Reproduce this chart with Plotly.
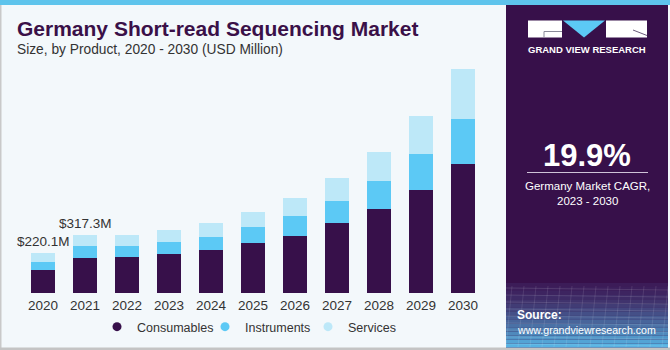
import plotly.graph_objects as go
import numpy as np

years = ["2020", "2021", "2022", "2023", "2024", "2025", "2026", "2027", "2028", "2029", "2030"]
consumables = [128.0, 192.2, 195.8, 212.3, 234.3, 272.8, 315.2, 382.8, 463.7, 568.2, 711.2]
instruments = [43.4, 67.3, 64.4, 66.0, 75.4, 88.0, 106.2, 124.9, 154.0, 198.0, 245.9]
services = [48.7, 57.8, 60.5, 68.2, 73.2, 82.5, 102.9, 128.2, 159.5, 209.0, 275.0]
labelled_years = ["2020", "2021"]
series_names = ["Consumables", "Instruments", "Services"]

W, H = 670, 350
PLOT_L, PLOT_R, PLOT_T, PLOT_B = 22, 484, 60, 293

def px(x):
    return x / W

def py(y):
    return 1 - y / H

C_CONS = "#37104a"
C_INST = "#5cc9f5"
C_SERV = "#bde8f8"
colors = [C_CONS, C_INST, C_SERV]
TXT = "#333333"
BG = "#f3f8fb"
FONT = "Liberation Sans, Arial, sans-serif"

fig = go.Figure()
for name, vals, col in zip(series_names, [consumables, instruments, services], colors):
    fig.add_trace(go.Bar(x=years, y=vals, name=name, marker=dict(color=col, line=dict(width=0)),
                         showlegend=False, hoverinfo="skip"))
legend_keys = ["legend", "legend2", "legend3"]
for name, col, lg in zip(series_names, colors, legend_keys):
    fig.add_trace(go.Scatter(x=years, y=[None] * len(years), mode="markers", name=name, legend=lg,
                             marker=dict(color=col, size=9, symbol="circle"), hoverinfo="skip"))

totals = [c + i + s for c, i, s in zip(consumables, instruments, services)]
annotations = []
for yr in labelled_years:
    k = years.index(yr)
    annotations.append(dict(x=k, y=totals[k], xref="x", yref="y", text=f"${totals[k]:.1f}M",
                            showarrow=False, yanchor="bottom", yshift=2,
                            font=dict(size=13.5, color=TXT, family=FONT)))

shapes = []
shapes.append(dict(type="rect", xref="paper", yref="paper", x0=px(0), x1=px(W), y0=py(5), y1=py(0),
                   fillcolor="#5ec4ec", line=dict(width=0), layer="below"))
shapes.append(dict(type="rect", xref="paper", yref="paper", x0=px(0), x1=px(1.5), y0=py(H), y1=py(5),
                   fillcolor="#c9c9c9", line=dict(width=0), layer="below"))
shapes.append(dict(type="rect", xref="paper", yref="paper", x0=px(0), x1=px(W), y0=py(H), y1=py(347.5),
                   fillcolor="#c4c4c4", line=dict(width=0), layer="below"))
shapes.append(dict(type="rect", xref="paper", yref="paper", x0=px(506), x1=px(668), y0=py(347.5), y1=py(5),
                   fillcolor="#37104a", line=dict(width=0), layer="below"))
top_c = np.array([0x3c, 0x1c, 0x58])
bot_c = np.array([0x56, 0xb2, 0xe2])
n = 16
y_start, y_end = 283, 347.5
for k in range(n):
    t = k / (n - 1)
    w = t ** 1.4
    c = (top_c * (1 - w) + bot_c * w).astype(int)
    y0 = y_start + (y_end - y_start) * k / n
    y1 = y_start + (y_end - y_start) * (k + 1) / n
    shapes.append(dict(type="rect", xref="paper", yref="paper", x0=px(506), x1=px(668), y0=py(y1), y1=py(y0),
                       fillcolor="rgb(%d,%d,%d)" % tuple(c), line=dict(width=0), layer="below"))
for k in range(9):
    yy = 288 + k * 7
    shapes.append(dict(type="line", xref="paper", yref="paper", x0=px(506), x1=px(668), y0=py(yy), y1=py(yy + 2),
                       line=dict(color="rgba(255,255,255,0.12)", width=1), layer="below"))
for k in range(14):
    xx = 506 + k * 12
    shapes.append(dict(type="line", xref="paper", yref="paper", x0=px(xx), x1=px(xx + 6), y0=py(347), y1=py(286),
                       line=dict(color="rgba(255,255,255,0.10)", width=1), layer="below"))
# logo
shapes.append(dict(type="rect", xref="paper", yref="paper", x0=px(528), x1=px(562), y0=py(37.5), y1=py(20.5),
                   fillcolor="white", line=dict(width=0)))
shapes.append(dict(type="path", xref="paper", yref="paper",
                   path=f"M {px(563)} {py(20.5)} L {px(605)} {py(20.5)} L {px(584)} {py(37.5)} Z",
                   fillcolor="#5cc9f5", line=dict(width=0)))
shapes.append(dict(type="rect", xref="paper", yref="paper", x0=px(606), x1=px(647), y0=py(37.5), y1=py(20.5),
                   fillcolor="white", line=dict(width=0)))
shapes.append(dict(type="line", xref="paper", yref="paper", x0=px(544), x1=px(562), y0=py(31.5), y1=py(31.5),
                   line=dict(color="#8a8a9a", width=1)))
shapes.append(dict(type="line", xref="paper", yref="paper", x0=px(544), x1=px(544), y0=py(31.5), y1=py(37.5),
                   line=dict(color="#8a8a9a", width=1)))
shapes.append(dict(type="line", xref="paper", yref="paper", x0=px(633), x1=px(647), y0=py(30), y1=py(35.5),
                   line=dict(color="#6a5a7a", width=1)))
shapes.append(dict(type="line", xref="paper", yref="paper", x0=px(527), x1=px(648), y0=py(172.5), y1=py(172.5),
                   line=dict(color="#cfc3d8", width=1)))

def txt(x, y, text, size, color, bold=False, xanchor="center", family=FONT):
    t = f"<b>{text}</b>" if bold else text
    return dict(x=px(x), y=py(y), xref="paper", yref="paper", text=t, showarrow=False,
                xanchor=xanchor, yanchor="middle", font=dict(size=size, color=color, family=family))

annotations += [
    txt(15, 29, "Germany Short-read Sequencing Market", 21, "#3a1048", bold=True, xanchor="left"),
    txt(15, 50, "Size, by Product, 2020 - 2030 (USD Million)", 13.75, TXT, xanchor="left"),
    txt(587, 50, "GRAND VIEW RESEARCH", 9.5, "white", bold=True),
    txt(587, 155, "19.9%", 31, "white", bold=True),
    txt(587, 186, "Germany Market CAGR,", 11.5, "white"),
    txt(587, 201, "2023 - 2030", 11.5, "white"),
    txt(515, 315, "Source:", 12, "white", bold=True, xanchor="left"),
    txt(515, 330, "www.grandviewresearch.com", 10.6, "white", xanchor="left"),
]

legend_common = dict(orientation="h", yanchor="middle", xanchor="left",
                     font=dict(size=12.5, color=TXT, family=FONT), bgcolor="rgba(0,0,0,0)",
                     itemwidth=30, borderwidth=0)
marker_x = [117, 225, 328]

fig.update_layout(
    width=W, height=H,
    margin=dict(l=0, r=0, t=0, b=0, pad=0, autoexpand=False),
    paper_bgcolor=BG, plot_bgcolor=BG,
    barmode="stack", bargap=0.43,
    font=dict(family=FONT, color=TXT, size=13),
    xaxis=dict(type="category", categoryarray=years, categoryorder="array",
               domain=[px(PLOT_L), px(PLOT_R)], automargin=False,
               range=[-0.5, len(years) - 0.5], autorange=False,
               showgrid=False, showline=False, zeroline=False, ticks="", ticklabelstandoff=2,
               tickfont=dict(size=13.5, color=TXT, family=FONT), fixedrange=True),
    yaxis=dict(visible=False, domain=[py(PLOT_B), py(PLOT_T)], automargin=False,
               range=[0, 1283], autorange=False, showgrid=False, zeroline=False, fixedrange=True),
    shapes=shapes, annotations=annotations,
)
for lg, mx in zip(legend_keys, marker_x):
    fig.update_layout({lg: dict(legend_common, x=px(mx - 20), y=py(327))})

fig.write_html("out.html")
